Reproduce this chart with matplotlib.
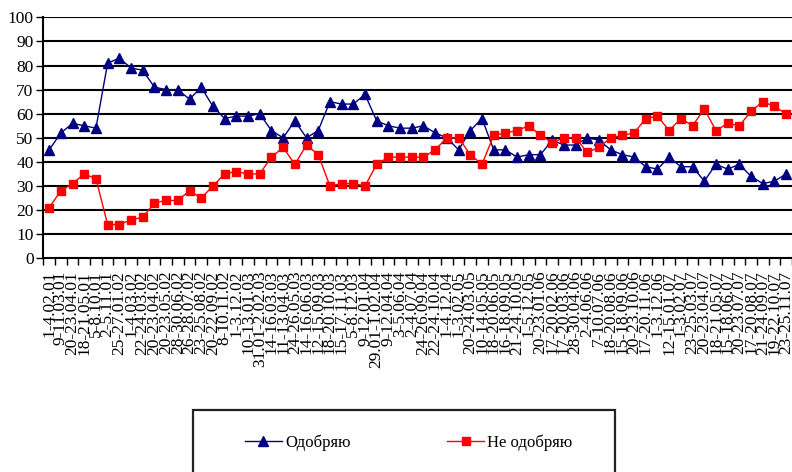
import matplotlib
matplotlib.use("Agg")
import matplotlib.pyplot as plt
from matplotlib.patches import Rectangle

plt.rcParams['font.family'] = ['Liberation Serif', 'DejaVu Serif']

dates = [
    "1-4.02.01", "9-11.03.01", "20-23.04.01", "18-21.05.01", "5-8.10.01",
    "2-5.11.01", "25-27.01.02", "1-4.03.02", "22-24.03.02", "20-23.04.02",
    "20-23.05.02", "28-30.06.02", "26-28.07.02", "23-25.08.02", "20-22.09.02",
    "8-10.11.02", "1-3.12.02", "10-13.01.03", "31.01-2.02.03", "14-16.03.03",
    "11-13.04.03", "24-26.05.03", "14-16.06.03", "12-15.09.03", "18-20.10.03",
    "15-17.11.03", "5-8.12.03", "9-12.01.04", "29.01-1.02.04", "9-12.04.04",
    "3-5.06.04", "2-4.07.04", "24-26.09.04", "22-24.10.04", "1-4.12.04",
    "1-3.02.05", "20-24.03.05", "10-14.05.05", "18-20.06.05", "16-18.09.05",
    "21-24.10.05", "1-5.12.05", "20-23.01.06", "17-20.02.06", "17-20.03.06",
    "28-30.04.06", "2-4.06.06", "7-10.07.06", "18-20.08.06", "15-18.09.06",
    "20-23.10.06", "17-20.11.06", "1-3.12.06", "12-15.01.07", "1-3.02.07",
    "23-25.03.07", "20-23.04.07", "18-21.05.07", "15-18.06.07", "20-23.07.07",
    "17-20.08.07", "21-24.09.07", "19-22.10.07", "23-25.11.07",
]

approve = [
    45, 52, 56, 55, 54, 81, 83, 79, 78, 71,
    70, 70, 66, 71, 63, 58, 59, 59, 60, 53,
    50, 57, 50, 53, 65, 64, 64, 68, 57, 55,
    54, 54, 55, 52, 50, 45, 53, 58, 45, 45,
    42, 43, 43, 49, 47, 47, 50, 49, 45, 43,
    42, 38, 37, 42, 38, 38, 32, 39, 37, 39,
    34, 31, 32, 35,
]

disapprove = [
    21, 28, 31, 35, 33, 14, 14, 16, 17, 23,
    24, 24, 28, 25, 30, 35, 36, 35, 35, 42,
    46, 39, 47, 43, 30, 31, 31, 30, 39, 42,
    42, 42, 42, 45, 50, 50, 43, 39, 51, 52,
    53, 55, 51, 48, 50, 50, 44, 46, 50, 51,
    52, 58, 59, 53, 58, 55, 62, 53, 56, 55,
    61, 65, 63, 60,
]

series_names = ["Одобряю", "Не одобряю"]

W, H = 792, 472
fig = plt.figure(figsize=(W / 100, H / 100), dpi=100)
ax_left, ax_right, ax_top, ax_bottom = 43.3, 792, 17.3, 258.3
ax = fig.add_axes([ax_left / W, 1 - ax_bottom / H, (ax_right - ax_left) / W, (ax_bottom - ax_top) / H])

x = list(range(len(dates)))
l1, = ax.plot(x, approve, color="#000080", lw=1.0, marker="^", markersize=7,
              markerfacecolor="#000080", markeredgecolor="#000080", zorder=3)
l2, = ax.plot(x, disapprove, color="#FF0000", lw=1.0, marker="s", markersize=5.5,
              markerfacecolor="#FF0000", markeredgecolor="#FF0000", zorder=3)

ax.set_ylim(0, 100)
ax.set_yticks(range(0, 101, 10))
ax.set_xlim(-0.42, 63.03)

for yv in range(10, 101, 10):
    ax.axhline(yv, color="black", lw=1.5, zorder=1)

ax.set_xticks(x)
ax.set_xticklabels(dates, rotation=90, fontsize=12.5)
ax.set_xticks([k - 0.5 for k in range(len(dates) + 1)], minor=True)
ax.tick_params(axis="x", which="major", length=0, pad=9)
ax.tick_params(axis="x", which="minor", length=5, width=1.0, direction="out")
ax.tick_params(axis="y", length=5, width=1.0, labelsize=12.5, pad=2)

for s in ["top", "right"]:
    ax.spines[s].set_visible(False)
ax.spines["left"].set_linewidth(1.5)
ax.spines["bottom"].set_linewidth(1.5)

# legend frame
fig.add_artist(Rectangle((193 / W, -0.02), (615 - 193) / W, (472 - 410) / H + 0.02,
                         transform=fig.transFigure, fill=False, edgecolor="#222222", lw=1.6))
fig.legend([l1, l2], series_names, loc="center left",
           bbox_to_anchor=(245 / W, 1 - 443 / H), ncol=2, frameon=False,
           fontsize=12, handlelength=2.2, handletextpad=0.2, columnspacing=5.8,
           borderpad=0, borderaxespad=0)

fig.savefig("out.png", dpi=100)
